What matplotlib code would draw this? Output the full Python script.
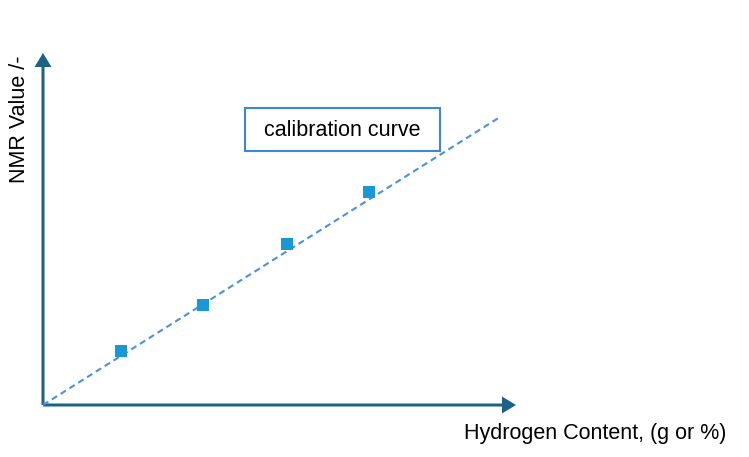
import matplotlib.pyplot as plt
from matplotlib.patches import FancyArrow, Rectangle

plt.rcParams['font.family'] = ['Liberation Sans', 'DejaVu Sans']

# measured points (arbitrary units, origin at axis corner)
hydrogen = [78, 160, 244, 326]
nmr = [54, 100, 161, 213]

# calibration line end points
line_x = [0, 457]
line_y = [0, 288]

axis_color = '#1b6286'
point_color = '#1899d6'
line_color = '#4a92dc'

fig = plt.figure(figsize=(7.49, 4.57), dpi=100)
ax = fig.add_axes([0, 0, 1, 1])
ax.set_xlim(-43, 706)
ax.set_ylim(-52, 405)
ax.axis('off')

# axes arrows
ax.add_patch(FancyArrow(0, 0, 0, 352, width=3, head_width=17, head_length=14,
                        length_includes_head=True, color=axis_color, lw=0))
ax.add_patch(FancyArrow(0, 0, 473, 0, width=3, head_width=17, head_length=14,
                        length_includes_head=True, color=axis_color, lw=0))

ax.plot(line_x, line_y, ls=(0, (3, 2)), color=line_color, lw=1.5)
ax.scatter(hydrogen, nmr, marker='s', s=75, color=point_color, zorder=3, lw=0)

# label box
ax.add_patch(Rectangle((202, 254), 195, 43, fc='white', ec='#3d88d4', lw=1.5, zorder=4))
ax.text(299.5, 275, 'calibration curve', fontsize=15.5, ha='center', va='center', zorder=5)

ax.text(683, -28, 'Hydrogen Content, (g or %)', fontsize=15.5, ha='right', va='center')
ax.text(-23, 286, 'NMR Value /-', fontsize=15.5, ha='center', va='center', rotation=90)

fig.savefig('out.png', dpi=100)
